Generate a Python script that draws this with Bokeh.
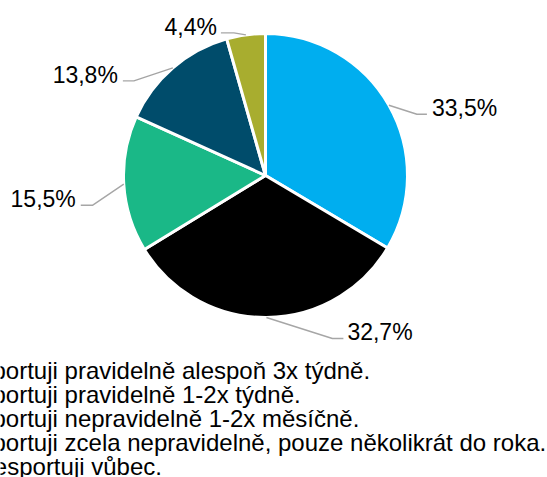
import math
from bokeh.plotting import figure
from bokeh.models import Range1d, ColumnDataSource
from bokeh.core.properties import value
from bokeh.embed import file_html
from bokeh.resources import INLINE

# ---- data ----
categories = [
    "Sportuji pravidelně alespoň 3x týdně.",
    "Sportuji pravidelně 1-2x týdně.",
    "Sportuji nepravidelně 1-2x měsíčně.",
    "Sportuji zcela nepravidelně, pouze několikrát do roka.",
    "Nesportuji vůbec.",
]
values = [33.5, 32.7, 15.5, 13.8, 4.4]
colors = ["#00AEEF", "#000000", "#1AB887", "#004C6B", "#A8AD2F"]
labels = [("%.1f%%" % v).replace(".", ",") for v in values]

# ---- layout (screen px, y down) ----
W, H = 547, 477
CX, CY, R = 265, 175, 142
# per-label leader geometry: elbow offset from slice edge point, horizontal run, text gap
elbow_dx = [28, 66, -31, -39, -12]
elbow_dy = [9, 21, 21, 13, -2]
hrun = [10, 11, -12, -11, -13]
gap = [5, 4, 5, 5, 4]
TEXT_RAISE = 6
LEG_X, LEG_Y0, LEG_DY = -24, 370, 24

def sy(y):
    return H - y

p = figure(width=W, height=H, x_range=Range1d(0, W), y_range=Range1d(0, H),
           output_backend="svg", toolbar_location=None, min_border=0,
           outline_line_color=None, margin=(0, 0, 0, 0))
p.axis.visible = False
p.grid.visible = False
p.background_fill_color = "white"
p.border_fill_color = "white"

total = sum(values)
starts, ends, mids = [], [], []
acc = 0.0
for v in values:
    f0 = acc / total
    acc += v
    f1 = acc / total
    starts.append(math.pi / 2 - 2 * math.pi * f0)
    ends.append(math.pi / 2 - 2 * math.pi * f1)
    mids.append(math.pi / 2 - 2 * math.pi * (f0 + f1) / 2)

src = ColumnDataSource(dict(start=starts, end=ends, color=colors,
                            x=[CX] * len(values), y=[sy(CY)] * len(values)))
p.wedge(x="x", y="y", radius=R, start_angle="start", end_angle="end",
        direction="clock", fill_color="color", line_color="white",
        line_width=3, source=src)

# leader lines and labels
lx, ly, tx, ty, align = [], [], [], [], []
for i, m in enumerate(mids):
    x0 = CX + R * math.cos(m)
    y0 = CY - R * math.sin(m)
    x1 = x0 + elbow_dx[i]
    y1 = y0 + elbow_dy[i]
    x2 = x1 + hrun[i]
    lx.append([x0, x1, x2])
    ly.append([sy(y0), sy(y1), sy(y1)])
    if hrun[i] > 0:
        tx.append(x2 + gap[i]); align.append("left")
    else:
        tx.append(x2 - gap[i]); align.append("right")
    ty.append(sy(y1 - TEXT_RAISE))

p.multi_line(xs=lx, ys=ly, line_color="#A6A6A6", line_width=1.4)
lsrc = ColumnDataSource(dict(x=tx, y=ty, t=labels, a=align))
p.text(x="x", y="y", text="t", text_align="a", text_baseline="alphabetic",
       text_font=value("Liberation Sans"), text_font_size="23px",
       text_color="#000000", source=lsrc)

# legend (markers sit off the left edge)
leg_y = [sy(LEG_Y0 + i * LEG_DY) for i in range(len(categories))]
p.text(x=[LEG_X] * len(categories), y=leg_y, text=categories,
       text_align="left", text_baseline="alphabetic",
       text_font=value("Liberation Sans"), text_font_size="24px",
       text_color="#000000")

open("out.html", "w").write(file_html(p, INLINE))
